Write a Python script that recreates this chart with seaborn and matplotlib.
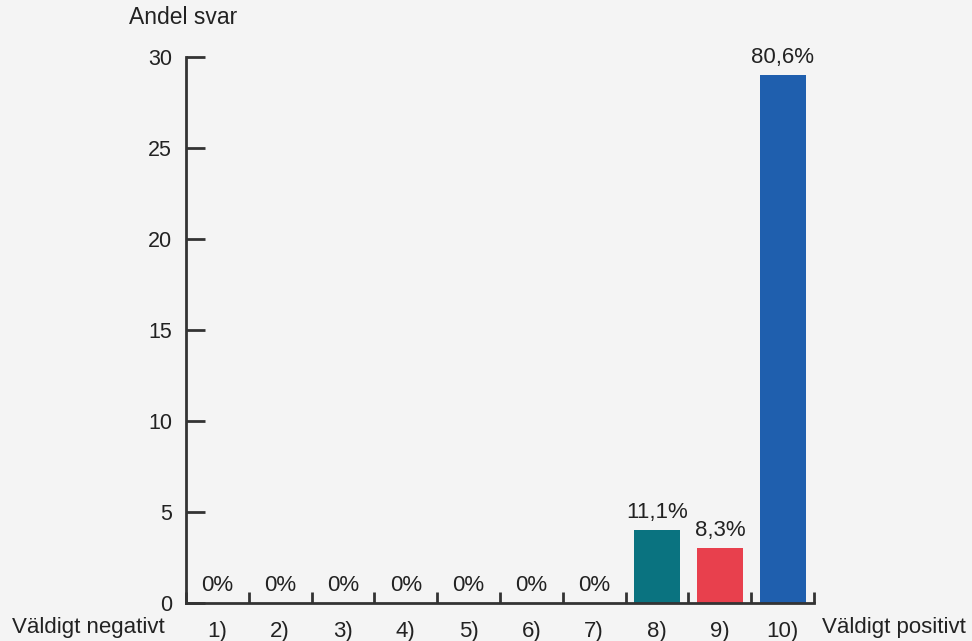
import numpy as np
import matplotlib
matplotlib.use("Agg")
import matplotlib.pyplot as plt
import seaborn as sns

# data
categories = ["1)", "2)", "3)", "4)", "5)", "6)", "7)", "8)", "9)", "10)"]
answers = [0, 0, 0, 0, 0, 0, 0, 4, 3, 29]
pct_labels = ["0%", "0%", "0%", "0%", "0%", "0%", "0%", "11,1%", "8,3%", "80,6%"]
bar_colors = ["#0a7380"] * 7 + ["#0a7380", "#e8404d", "#1f5fae"]

bg = "#f4f4f4"
ink = "#222222"

sns.set_theme(style="white")
plt.rcParams['font.family'] = ['Liberation Sans', 'DejaVu Sans']

fig = plt.figure(figsize=(9.72, 6.41), dpi=100, facecolor=bg)
ax = fig.add_axes([0.1914, 0.0593, 0.6461, 0.8517], facecolor=bg)

sns.barplot(x=categories, y=answers, hue=categories, palette=bar_colors,
            legend=False, width=0.73, saturation=1, linewidth=0, ax=ax)

for cont, lab in zip(ax.containers, pct_labels):
    ax.bar_label(cont, labels=[lab], padding=5, fontsize=16, color=ink)

ax.set_xlim(-0.5, 9.5)
ax.set_ylim(0, 30)
ax.set_yticks([0, 5, 10, 15, 20, 25, 30])
ax.set_xlabel("")
ax.set_ylabel("")

# spines
sns.despine(ax=ax, top=True, right=True)
for s in ["left", "bottom"]:
    ax.spines[s].set_color("#333333")
    ax.spines[s].set_linewidth(2)

# y ticks pointing inward
ax.tick_params(axis="y", direction="in", length=14, width=2, color="#333333",
               labelsize=15.5, labelcolor=ink, pad=10, left=True)
# x: labels at centres, small tick marks at category boundaries
ax.tick_params(axis="x", which="major", length=0, labelsize=16, labelcolor=ink, pad=13)
ax.set_xticks(np.arange(-0.5, 10, 1), minor=True)
ax.tick_params(axis="x", which="minor", direction="in", length=8, width=2,
               color="#333333", bottom=True)

fig.text(0.1327, 0.972, "Andel svar", fontsize=16.5, color=ink, va="center", ha="left")
fig.text(0.170, 0.0215, "Väldigt negativt", fontsize=16, color=ink, va="center", ha="right")
fig.text(0.8457, 0.0215, "Väldigt positivt", fontsize=16, color=ink, va="center", ha="left")

fig.savefig("out.png", dpi=100, facecolor=bg)
